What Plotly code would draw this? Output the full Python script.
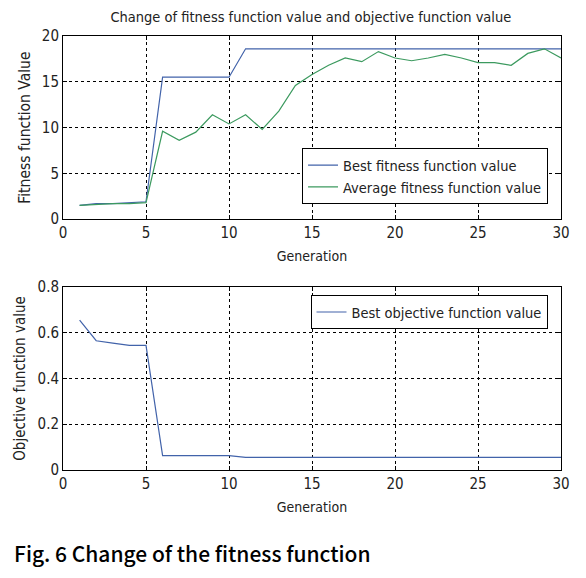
import plotly.graph_objects as go

generation = list(range(1, 31))
best_fitness = [1.5, 1.7, 1.7, 1.8, 1.9, 15.5, 15.5, 15.5, 15.5, 15.5,
                18.6, 18.6, 18.6, 18.6, 18.6, 18.6, 18.6, 18.6, 18.6, 18.6,
                18.6, 18.6, 18.6, 18.6, 18.6, 18.6, 18.6, 18.6, 18.6, 18.6]
avg_fitness = [1.5, 1.6, 1.7, 1.7, 1.8, 9.6, 8.6, 9.5, 11.4, 10.4,
               11.4, 9.8, 11.8, 14.6, 15.8, 16.8, 17.6, 17.2, 18.3, 17.6,
               17.3, 17.6, 18.0, 17.6, 17.1, 17.1, 16.8, 18.1, 18.6, 17.6]
best_objective = [0.655, 0.565, 0.555, 0.545, 0.545, 0.063, 0.063, 0.063, 0.063, 0.063,
                  0.055, 0.055, 0.055, 0.055, 0.055, 0.055, 0.055, 0.055, 0.055, 0.055,
                  0.055, 0.055, 0.055, 0.055, 0.055, 0.055, 0.055, 0.055, 0.055, 0.055]

x_ticks = [0, 5, 10, 15, 20, 25, 30]
fit_ticks = [0, 5, 10, 15, 20]
obj_ticks = [0, 0.2, 0.4, 0.6, 0.8]
obj_tick_labels = ["0", "0.2", "0.4", "0.6", "0.8"]

BLUE = "#4263aa"
GREEN = "#3c9a5f"
FONT = "DejaVu Sans Condensed, Liberation Sans Narrow, sans-serif"

fig = go.Figure()
fig.add_trace(go.Scatter(x=generation, y=best_fitness, mode="lines",
                         name="Best fitness function value",
                         line=dict(color=BLUE, width=1.2),
                         xaxis="x", yaxis="y", legend="legend"))
fig.add_trace(go.Scatter(x=generation, y=avg_fitness, mode="lines",
                         name="Average fitness function value",
                         line=dict(color=GREEN, width=1.2),
                         xaxis="x", yaxis="y", legend="legend"))
fig.add_trace(go.Scatter(x=generation, y=best_objective, mode="lines",
                         name="Best objective function value",
                         line=dict(color=BLUE, width=1.2),
                         xaxis="x2", yaxis="y2", legend="legend2"))

axis_common = dict(showline=True, linecolor="black", linewidth=1, mirror="ticks",
                   ticks="inside", ticklen=4, tickcolor="black",
                   showgrid=True, gridcolor="black", gridwidth=1, griddash="3px,3px",
                   zeroline=False, automargin=False,
                   tickfont=dict(family=FONT, size=15, color="#222"))

fig.update_layout(
    width=578, height=570,
    margin=dict(l=55, r=25, t=28, b=108),
    paper_bgcolor="white", plot_bgcolor="white",
    font=dict(family=FONT, color="#222"),
    title=dict(text="Change of fitness function value and objective function value",
               x=0.524, xanchor="center", y=0.984, yanchor="middle",
               font=dict(family=FONT, size=14.5, color="#222")),
    xaxis=dict(domain=[0, 1], anchor="y", range=[0, 30], tickvals=x_ticks,
               title=dict(text="Generation", standoff=10,
                          font=dict(family=FONT, size=14, color="#222")),
               **axis_common),
    yaxis=dict(domain=[0.578, 1], anchor="x", range=[0, 20], tickvals=fit_ticks,
               title=dict(text="Fitness function Value", standoff=7,
                          font=dict(family=FONT, size=15.5, color="#222")),
               **axis_common),
    xaxis2=dict(domain=[0, 1], anchor="y2", range=[0, 30], tickvals=x_ticks,
                title=dict(text="Generation", standoff=10,
                           font=dict(family=FONT, size=14, color="#222")),
                **axis_common),
    yaxis2=dict(domain=[0, 0.4217], anchor="x2", range=[0, 0.8], tickvals=obj_ticks,
                ticktext=obj_tick_labels,
                title=dict(text="Objective function value", standoff=8,
                           font=dict(family=FONT, size=15, color="#222")),
                **axis_common),
    legend=dict(x=0.48, y=0.6125, xanchor="left", yanchor="bottom",
                bgcolor="white", bordercolor="black", borderwidth=1,
                font=dict(family=FONT, size=14.5, color="#222"),
                tracegroupgap=0, itemwidth=30),
    legend2=dict(x=0.497, y=0.403, xanchor="left", yanchor="top",
                 bgcolor="white", bordercolor="black", borderwidth=1,
                 font=dict(family=FONT, size=14.5, color="#222"), itemwidth=30),
    annotations=[dict(text="Fig. 6 Change of the fitness function",
                      xref="paper", yref="paper", x=-0.102, y=-0.191,
                      xanchor="left", yanchor="middle", showarrow=False,
                      font=dict(family="Noto Sans CJK KR, Noto Sans, sans-serif",
                                size=21, color="black", weight=500))],
)

fig.write_html("out.html")
